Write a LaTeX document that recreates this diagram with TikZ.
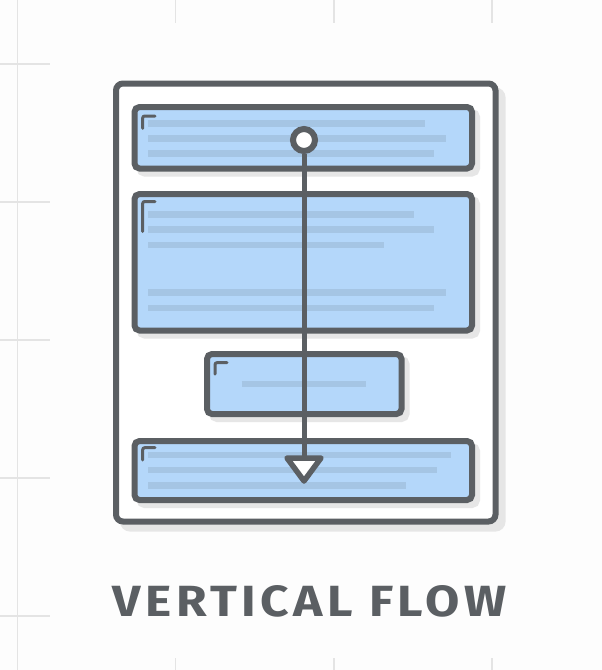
\documentclass[tikz,border=0pt]{standalone}
\usepackage{fontspec}
\usepackage{graphicx}
\newfontfamily\titlefont{Fira Sans}[LetterSpace=9]
\definecolor{ink}{RGB}{91,95,99}
\definecolor{boxblue}{RGB}{180,215,250}
\definecolor{barblue}{RGB}{165,197,228}
\definecolor{shadowc}{RGB}{230,230,230}
\definecolor{gridc}{RGB}{228,228,228}
\definecolor{bgc}{RGB}{253,253,253}
\tikzset{
  gridline/.style={draw=gridc, line width=1.5},
  framebox/.style={rectangle, draw=ink, fill=white, line width=6, rounded corners=7, inner sep=0,
    preaction={draw=shadowc, fill=shadowc, transform canvas={shift={(7pt,-7pt)}}}},
  flowbox/.style={rectangle, draw=ink, fill=boxblue, line width=6, rounded corners=5, inner sep=0,
    preaction={draw=shadowc, fill=shadowc, transform canvas={shift={(5pt,-5pt)}}}},
  bar/.style={draw=barblue, line width=6.5},
  cornermark/.style={draw=ink, line width=3, rounded corners=2, line cap=round},
  flowline/.style={draw=ink, line width=5},
  startdot/.style={circle, draw=ink, fill=white, line width=6, minimum size=22, inner sep=0},
  endtri/.style={draw=ink, fill=white, line width=5.5, line join=round}
}
\begin{document}
\begin{tikzpicture}[x=1pt,y=-1pt]
\useasboundingbox (0,0) rectangle (602,670);
\fill[bgc] (0,0) rectangle (602,670);
% background grid remnants
\draw[gridline] (17.7,0) -- (17.7,670);
\foreach \yy in {64,202,340,478,616} \draw[gridline] (0,\yy) -- (50,\yy);
\foreach \xx in {175.7,333.8,491.9} {
  \draw[gridline] (\xx,0) -- (\xx,23);
  \draw[gridline] (\xx,658) -- (\xx,670);
}
% frame
\node[framebox, minimum width=379.5, minimum height=438] (frame) at (305.75,302.5) {};
% boxes
\node[flowbox, minimum width=337.5, minimum height=61.5] (b1) at (303.25,137.75) {};
\node[flowbox, minimum width=337.5, minimum height=136.5] (b2) at (303.25,262.25) {};
\node[flowbox, minimum width=194.5, minimum height=60] (b3) at (304.25,384) {};
\node[flowbox, minimum width=337.5, minimum height=59] (b4) at (303.25,470.5) {};
% text bars
\draw[bar] (148,123.3) -- (425,123.3);
\draw[bar] (148,138.3) -- (446,138.3);
\draw[bar] (148,153.3) -- (434,153.3);
\draw[bar] (148,214.3) -- (414,214.3);
\draw[bar] (148,229.3) -- (434,229.3);
\draw[bar] (148,245) -- (384,245);
\draw[bar] (148,292.7) -- (446,292.7);
\draw[bar] (148,308) -- (434,308);
\draw[bar] (241.7,384) -- (366,384);
\draw[bar] (148,455) -- (450.7,455);
\draw[bar] (148,470) -- (436.7,470);
\draw[bar] (148,485.7) -- (405.7,485.7);
% corner marks
\draw[cornermark] (142.7,128.3) |- (155,116);
\draw[cornermark] (142.7,231.5) |- (155,201.5);
\draw[cornermark] (215,374) |- (227,362.7);
\draw[cornermark] (142.7,460) |- (155,447.7);
% flow connector
\node[startdot] (start) at (304,140) {};
\coordinate (tritop) at (304,458);
\coordinate (tip) at (304,481);
\draw[flowline] (start) -- (tritop);
\draw[endtri] (287,458) -- (321,458) -- (tip) -- cycle;
% title
\node[text=ink, inner sep=0] (title) at (309.7,601.5) {\resizebox{394pt}{31pt}{\titlefont\bfseries VERTICAL FLOW}};
\end{tikzpicture}
\end{document}
